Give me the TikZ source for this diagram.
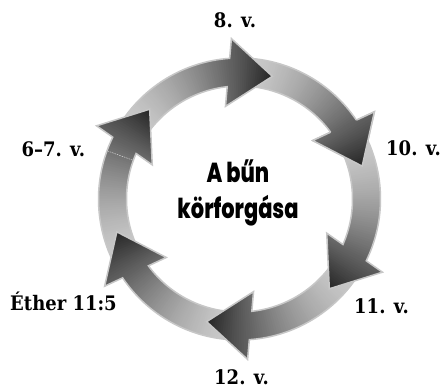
\documentclass[tikz,border=0pt]{standalone}
\usepackage{fontspec}
\usepackage{graphicx}
\newfontfamily\titlefont{Poppins}[BoldFont={Poppins ExtraBold}]
\newfontfamily\labelfont{DejaVu Serif}
\def\arrowshape{(153:141) arc[start angle=153,end angle=99.0,radius=141] -- (-22.05,159.07) -- (22.05,125.07) -- (-22.05,91.07) -- (101.25:113) arc[start angle=101.25,end angle=153,radius=113] -- cycle}
\def\headshape{(-22.05,159.07) -- (22.05,125.07) -- (-22.05,91.07) -- cycle}
\def\headline{(-22.05,139.3) -- (-22.05,159.07) -- (22.05,125.07) -- (-22.05,91.07) -- (-22.05,110.8)}
\newcommand\arrowfill{%
  \foreach \a in {154,153,...,76}{%
    \pgfmathsetmacro\g{max(0,min(1,(153-\a)/73))}%
    \pgfmathsetmacro\k{100*(1-(0.80-0.65*\g*sqrt(\g)))}%
    \fill[black!\k] (0,0) -- ({\a+0.7}:175) -- ({\a-0.7}:175) -- cycle;
  }}
\newcommand\fullarrow[1]{%
  \begin{scope}[shift={(239.5,189)},rotate=#1]
    \begin{scope}\clip \arrowshape; \arrowfill \end{scope}
    \draw[arrowline] \arrowshape;
  \end{scope}}
\newcommand\onlyhead[1]{%
  \begin{scope}[shift={(239.5,189)},rotate=#1]
    \begin{scope}\clip \headshape; \arrowfill \end{scope}
    \draw[arrowline] \headline;
  \end{scope}}
\newcommand\lbltext[1]{\scalebox{0.9}[1]{#1}}
\newcommand\ttltext[1]{\scalebox{0.76}[1]{#1}}
\begin{document}
\begin{tikzpicture}[x=1pt,y=1pt,
  arrowline/.style={draw=black!22,line width=1.5pt,line join=miter},
  lbl/.style={font=\labelfont\bfseries\fontsize{20}{20}\selectfont,anchor=base,inner sep=0pt},
  ttl/.style={font=\titlefont\bfseries\fontsize{27.5}{27.5}\selectfont,anchor=base,inner sep=0pt}]
\useasboundingbox (0,0) rectangle (444,388);
\fill[white] (0,0) rectangle (444,388);
% arrows (tip angles 15, 75, 135, 195, 255, 315)
\fullarrow{-65}
\fullarrow{-5}
\fullarrow{55}
\fullarrow{115}
\fullarrow{-185}
\fullarrow{-125}
\onlyhead{-65}
% faint seam
\begin{scope}[shift={(239.5,189)}]
  \coordinate (s1) at (160:114);
  \coordinate (s2) at (160:140);
  \draw[white,opacity=0.7,line width=0.5pt,dash pattern=on 1.5pt off 1pt] (s1) -- (s2);
\end{scope}
% title
\node[ttl] (t1) at (238,205.7) {\ttltext{A bűn}};
\node[ttl] (t2) at (238,169.7) {\ttltext{körforgása}};
% labels
\node[lbl] (l8) at (235,360) {\lbltext{8. v.}};
\node[lbl] (l10) at (413.5,232) {\lbltext{10. v.}};
\node[lbl] (l67) at (53.3,231.5) {\lbltext{6\textendash7. v.}};
\node[lbl] (l11) at (381.5,74) {\lbltext{11. v.}};
\node[lbl] (le) at (63.5,77.3) {\lbltext{Éther 11:5}};
\node[lbl] (l12) at (241.5,4) {\lbltext{12. v.}};
\end{tikzpicture}
\end{document}
